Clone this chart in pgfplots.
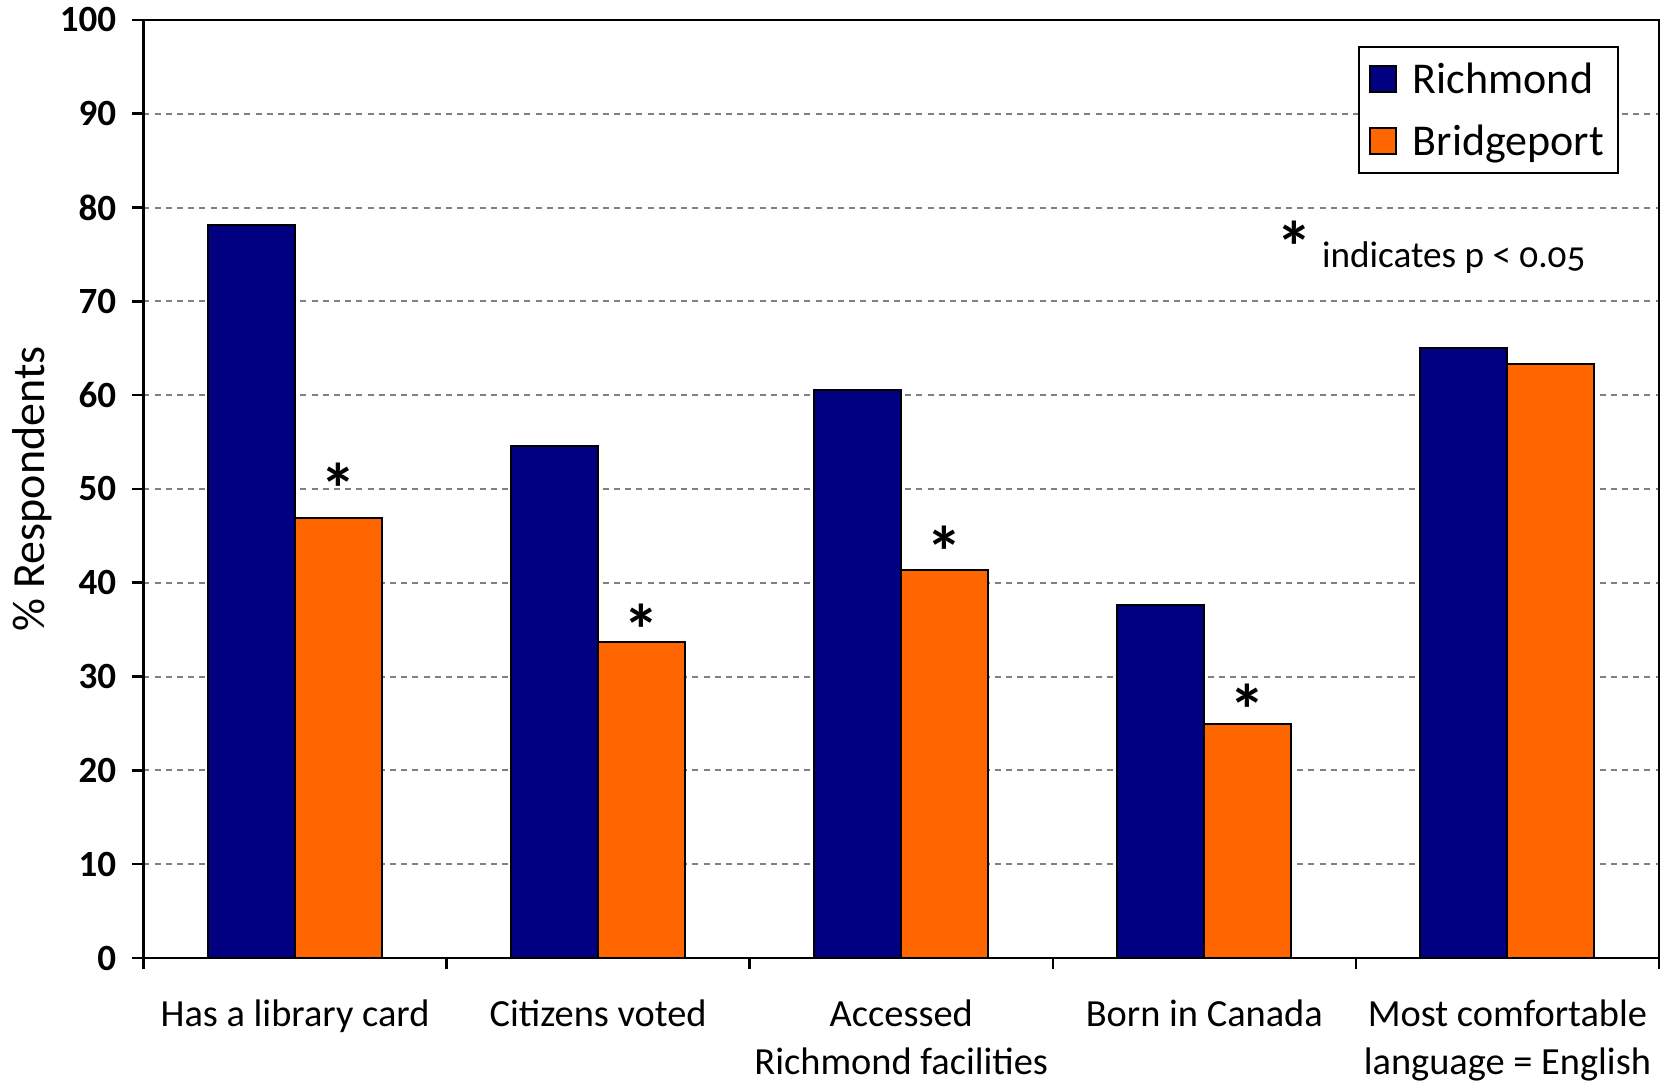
\documentclass[border=0pt]{standalone}
\usepackage{fontspec}
\setmainfont{Carlito}
\usepackage{pgfplots}
\pgfplotsset{compat=1.18}

\definecolor{richmond}{HTML}{000080}
\definecolor{bridgeport}{HTML}{FF6600}
\definecolor{gridgray}{HTML}{808080}

% two-line category names, baseline on the first line
\newcommand{\twoline}[2]{\begin{tabular}[t]{@{}c@{}}#1\\#2\end{tabular}}

\begin{document}
\begin{tikzpicture}
% page frame around the plot area (axis box is 757.75pt x 469pt at the origin)
\useasboundingbox (-71.75pt,-63.5pt) rectangle (759.75pt,479pt);
\begin{axis}[
  at={(0,0)}, anchor=south west,
  scale only axis,
  width=757.75pt, height=469pt,
  ybar=0pt, bar width=0.287,
  xmin=-0.5, xmax=4.5,
  ymin=0, ymax=100,
  ytick={0,10,...,100},
  xtick={-0.5,0.5,1.5,2.5,3.5,4.5},
  xticklabels={},
  extra x ticks={0,1,2,3,4},
  extra x tick labels={{Has a library card},{Citizens voted},{\twoline{Accessed}{Richmond facilities}},{Born in Canada},{\twoline{Most comfortable}{language = English}}},
  extra x tick style={major tick length=0pt, grid=none},
  tick pos=left,
  tick align=outside,
  major tick length=5.5pt,
  tick style={black, line width=1.3pt},
  axis line style={black, line width=1.3pt},
  ymajorgrids,
  grid style={gridgray, line width=1pt, dash pattern=on 3pt off 2.6pt},
  /pgf/number format/assume math mode=true,
  yticklabel style={font=\bfseries\fontsize{18.5}{20}\selectfont, inner sep=0pt, xshift=-8pt},
  xticklabel style={font=\fontsize{19.2}{24}\selectfont, anchor=north, inner sep=0pt, yshift=-21pt, text height=13pt},
  ylabel={\% Respondents},
  ylabel style={at={(axis description cs:-0.0735,0.5)}, anchor=center, font=\fontsize{23}{26}\selectfont, inner sep=0pt},
  legend cell align=left,
  legend image code/.code={\draw[#1, line width=1pt] (0pt,-6.5pt) rectangle (13pt,6.5pt);},
  legend style={at={(rel axis cs:1,1)}, anchor=north east, xshift=-20pt, yshift=-13pt,
    draw=black, line width=1pt, inner xsep=5pt, inner ysep=9pt,
    font=\fontsize{22}{26}\selectfont, row sep=16.8pt, column sep=6pt,
    nodes={inner xsep=2pt, inner ysep=0pt, text height=14.2pt, text depth=0pt}},
]
\addplot[fill=richmond, draw=black, line width=1pt] coordinates {
  (0,78.1) (1,54.6) (2,60.6) (3,37.6) (4,65.0)
};
\addlegendentry{Richmond}
\addplot[fill=bridgeport, draw=black, line width=1pt] coordinates {
  (0,46.9) (1,33.7) (2,41.4) (3,24.9) (4,63.3)
};
\addlegendentry{Bridgeport}

% significance markers above the Bridgeport bars
\tikzset{sig/.style={font=\bfseries\fontsize{36}{36}\selectfont, inner sep=0pt, anchor=north, yshift=4.5pt}}
\node[sig] at (axis cs:0.1435,51.9) {*};
\node[sig] at (axis cs:1.1435,36.8) {*};
\node[sig] at (axis cs:2.1435,45.1) {*};
\node[sig] at (axis cs:3.1435,28.3) {*};

% note on the markers
\node[sig] at (axis cs:3.296,77.7) {*};
\node[anchor=base west, inner sep=0pt, font=\fontsize{18.6}{22}\selectfont\addfontfeatures{Numbers=OldStyle}]
  at (axis cs:3.387,73.56) {indicates p < 0.05};
\end{axis}
\end{tikzpicture}
\end{document}
